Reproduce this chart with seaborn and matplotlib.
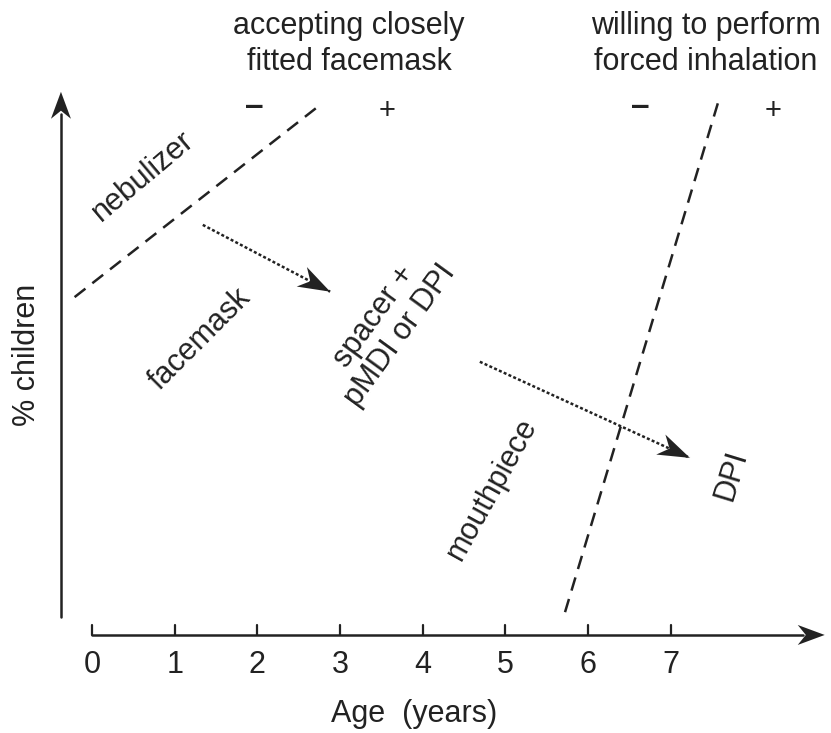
import matplotlib
matplotlib.use("Agg")
import matplotlib.pyplot as plt
import seaborn as sns
import numpy as np

# ages on the x axis (years)
age_ticks = [0, 1, 2, 3, 4, 5, 6, 7]

# boundary lines (age, % children on an arbitrary 0-100 scale)
facemask_x = [-0.21, 2.71]
facemask_y = [62.2, 97.0]
inhalation_x = [5.72, 7.57]
inhalation_y = [4.2, 98.0]

# transition arrows (start, end)
arrow1_x = [1.34, 2.88]
arrow1_y = [75.5, 63.2]
arrow2_x = [4.69, 7.23]
arrow2_y = [50.3, 32.6]

# rotated region labels
region_labels = ["nebulizer", "facemask", "spacer +\npMDI or DPI", "mouthpiece", "DPI"]
region_x = [0.62, 1.31, 3.57, 4.84, 7.73]
region_y = [84.5, 54.5, 56.9, 26.9, 29.3]
region_rot = [40, 45, 54, 61, 73]

# header labels with - / + signs
header_labels = ["accepting closely\nfitted facemask", "willing to perform\nforced inhalation"]
header_x = [3.11, 7.42]
sign_minus_x = [1.96, 6.63]
sign_plus_x = [3.57, 8.23]

sns.set_style("white")
plt.rcParams['font.family'] = ['Liberation Sans', 'DejaVu Sans']
ink = "#222222"
fs = 22

fig = plt.figure(figsize=(8.31, 7.33), dpi=100)
ax = fig.add_axes([0, 0, 1, 1])
ax.set_xlim(-1.112, 8.936)
ax.set_ylim(-18.05, 116.9)
ax.axis("off")


def stealth(ax, x0, y0, x1, y1, length=28, width=10, color=ink):
    # filled notched arrow head, sized in pixels, pointing from (x0,y0) to (x1,y1)
    tr = ax.transData
    p0 = tr.transform((x0, y0))
    p1 = tr.transform((x1, y1))
    d = (p1 - p0) / np.hypot(*(p1 - p0))
    n = np.array([-d[1], d[0]])
    pts = [p1, p1 - length * d + width * n, p1 - 0.7 * length * d,
           p1 - length * d - width * n]
    pts = tr.inverted().transform(np.array(pts))
    ax.fill(pts[:, 0], pts[:, 1], color=color, lw=0, zorder=5)


# x axis with arrow
ax.plot([0, 8.6], [0, 0], color=ink, lw=1.8)
stealth(ax, 0, 0, 8.86, 0, length=27, width=10)
for t in age_ticks:
    ax.plot([t, t], [0, 1.9], color=ink, lw=1.6)
    ax.text(t, -5.6, str(t), ha="center", va="center", fontsize=fs, color=ink)
ax.text(3.9, -14.6, "Age  (years)", ha="center", va="center", fontsize=fs, color=ink)

# y axis with arrow
ax.plot([-0.375, -0.375], [3.3, 96], color=ink, lw=1.8)
stealth(ax, -0.375, 3.3, -0.375, 100, length=27, width=10)
ax.text(-0.79, 51.6, "% children", rotation=90, ha="center", va="center",
        fontsize=fs, color=ink)

# dashed boundaries
sns.lineplot(x=facemask_x, y=facemask_y, ax=ax, color=ink, lw=1.8,
             linestyle=(0, (5.5, 3.5)), estimator=None, sort=False)
sns.lineplot(x=inhalation_x, y=inhalation_y, ax=ax, color=ink, lw=1.8,
             linestyle=(0, (5.5, 3.5)), estimator=None, sort=False)

# dotted transition arrows
for xs, ys in [(arrow1_x, arrow1_y), (arrow2_x, arrow2_y)]:
    sns.lineplot(x=xs, y=ys, ax=ax, color=ink, lw=1.8, linestyle=(0, (1.2, 0.9)),
                 estimator=None, sort=False)
    stealth(ax, xs[0], ys[0], xs[1], ys[1], length=32, width=11)

for lab, x, y, r in zip(region_labels, region_x, region_y, region_rot):
    ax.text(x, y, lab, rotation=r, ha="center", va="center", fontsize=fs,
            color=ink, linespacing=1.05, rotation_mode="anchor")

for lab, x in zip(header_labels, header_x):
    ax.text(x, 108.8, lab, ha="center", va="center", fontsize=fs, color=ink,
            linespacing=1.22)
for x in sign_minus_x:
    ax.text(x, 97.3, "\u2013", ha="center", va="center", fontsize=24,
            fontweight="bold", color=ink)
for x in sign_plus_x:
    ax.text(x, 96.5, "+", ha="center", va="center", fontsize=21, color=ink)

fig.savefig("out.png", dpi=100)
